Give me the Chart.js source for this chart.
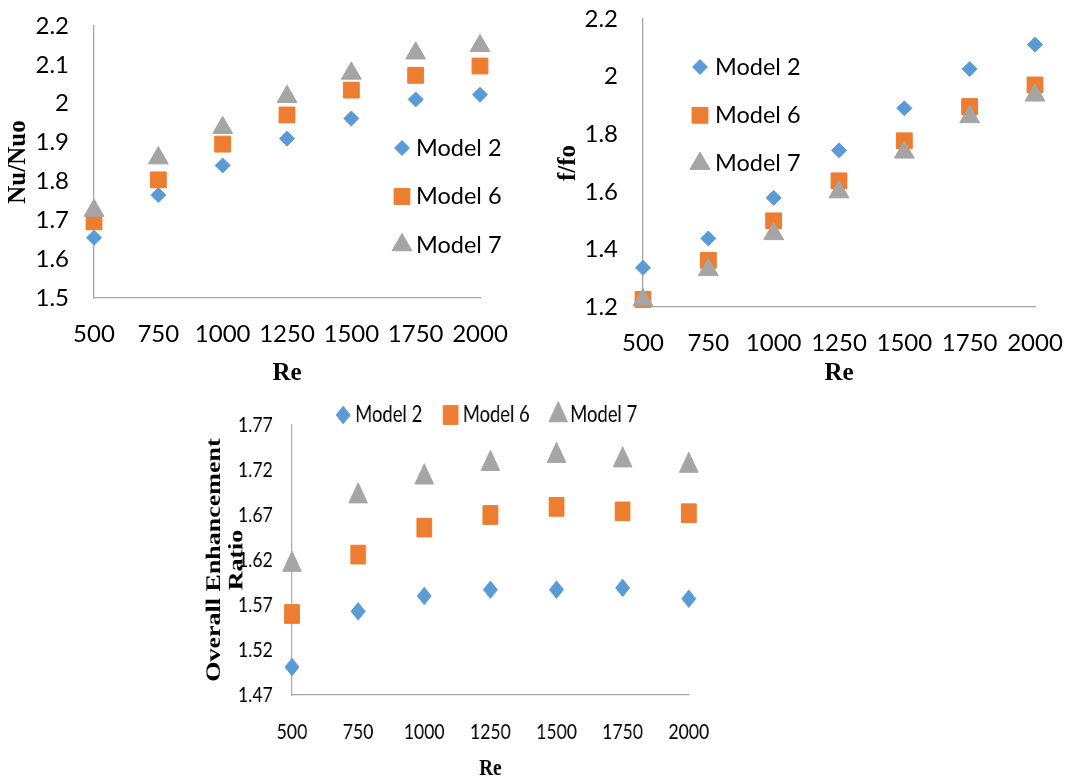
<!DOCTYPE html>
<html>
<head>
<meta charset="utf-8">
<script src="https://cdn.jsdelivr.net/npm/chart.js@4.4.1/dist/chart.umd.min.js"></script>
<style>
  body { margin: 0; background: #fff; }
  canvas { position: absolute; }
  #oerChart { transform: scaleX(0.8); transform-origin: 0 0; }
</style>
</head>
<body>
<canvas id="nuChart" width="545" height="390" style="left:0;top:0"></canvas>
<canvas id="fChart" width="543" height="390" style="left:545px;top:0"></canvas>
<!-- the third chart is squeezed sideways in the original, so it is drawn wider and scaled -->
<canvas id="oerChart" width="875" height="393" style="left:200px;top:390px"></canvas>
<script>
const re = [500, 750, 1000, 1250, 1500, 1750, 2000];
const modelNames = ["Model 2", "Model 6", "Model 7"];

// Nu/Nuo
const nuModel2 = [1.655, 1.765, 1.841, 1.910, 1.962, 2.011, 2.023];
const nuModel6 = [1.696, 1.804, 1.896, 1.971, 2.035, 2.073, 2.097];
const nuModel7 = [1.725, 1.860, 1.938, 2.018, 2.078, 2.130, 2.149];
const nuTicks = [1.5, 1.6, 1.7, 1.8, 1.9, 2, 2.1, 2.2];

// f/fo
const fModel2 = [1.336, 1.438, 1.579, 1.744, 1.890, 2.026, 2.111];
const fModel6 = [1.226, 1.362, 1.499, 1.638, 1.777, 1.896, 1.971];
const fModel7 = [1.224, 1.329, 1.454, 1.599, 1.737, 1.860, 1.935];
const fTicks = [1.2, 1.4, 1.6, 1.8, 2, 2.2];

// overall enhancement ratio
const oerModel2 = [1.501, 1.563, 1.580, 1.587, 1.587, 1.589, 1.577];
const oerModel6 = [1.560, 1.626, 1.656, 1.670, 1.679, 1.674, 1.672];
const oerModel7 = [1.615, 1.691, 1.712, 1.727, 1.736, 1.731, 1.725];
const oerTicks = [1.47, 1.52, 1.57, 1.62, 1.67, 1.72, 1.77];

const markers = [
  { pointStyle: "rectRot", radius: 7.5, color: "#5B9BD5" },
  { pointStyle: "rect", radius: 11.2, color: "#ED7D31" },
  { pointStyle: "triangle", radius: 11.5, color: "#A5A5A5" },
];
const axisColor = "#A6A6A6";

// legend drawn by hand so it can sit where the original has it
const markerLegend = {
  id: "markerLegend",
  afterDraw(chart, args, opts) {
    const ctx = chart.ctx;
    ctx.save();
    ctx.font = opts.font;
    ctx.textBaseline = "middle";
    ctx.textAlign = "left";
    chart.data.datasets.forEach((ds, i) => {
      const x = opts.x + i * opts.dx;
      const y = opts.y + i * opts.dy;
      ctx.fillStyle = ds.backgroundColor;
      ctx.strokeStyle = ds.borderColor;
      ctx.lineWidth = 1;
      Chart.helpers.drawPoint(ctx, { pointStyle: ds.pointStyle, radius: ds.pointRadius, borderWidth: 1, rotation: 0 }, x, y);
      ctx.fillStyle = "#000";
      ctx.fillText(ds.label, x + opts.gap, y);
    });
    ctx.restore();
  },
};

function makeDatasets(series, k) {
  return series.map((vals, i) => ({
    label: modelNames[i],
    data: vals.map((v, j) => ({ x: re[j], y: v })),
    pointStyle: markers[i].pointStyle,
    pointRadius: markers[i].radius * k,
    pointHoverRadius: markers[i].radius * k,
    backgroundColor: markers[i].color,
    borderColor: markers[i].color,
    borderWidth: 1,
    showLine: false,
    clip: false,
    order: 2 - i,
  }));
}

function makeChart(id, series, ticks, c) {
  return new Chart(document.getElementById(id), {
    type: "scatter",
    data: { datasets: makeDatasets(series, c.markerScale) },
    options: {
      responsive: false,
      animation: false,
      devicePixelRatio: 1,
      layout: { padding: { left: 0, top: c.top, right: c.right, bottom: 0 } },
      plugins: {
        legend: { display: false },
        tooltip: { enabled: false },
        markerLegend: c.legend,
      },
      scales: {
        x: {
          type: "linear",
          min: 500,
          max: 2000,
          afterBuildTicks: (s) => { s.ticks = re.map((v) => ({ value: v })); },
          afterFit: (s) => { s.height = c.xHeight; s.paddingLeft = 0; s.paddingRight = 0; },
          grid: { display: false, drawTicks: false },
          border: { color: axisColor, width: 1.3 },
          ticks: {
            autoSkip: false,
            maxRotation: 0,
            padding: c.xPad,
            color: "#000",
            font: { family: "Lato", size: c.tickSize },
            callback: (v) => String(v),
          },
          title: {
            display: true,
            text: "Re",
            color: "#000",
            font: { family: "Liberation Serif", weight: "bold", size: c.xTitleSize },
            padding: { top: 0, bottom: c.xTitlePad },
          },
        },
        y: {
          type: "linear",
          min: ticks[0],
          max: ticks[ticks.length - 1],
          afterBuildTicks: (s) => { s.ticks = ticks.map((v) => ({ value: v })); },
          afterFit: (s) => { s.width = c.yWidth; s.paddingTop = 0; s.paddingBottom = 0; },
          grid: { display: false, drawTicks: false },
          border: { color: axisColor, width: 1.3 },
          ticks: {
            padding: c.yPad,
            color: "#000",
            font: { family: "Lato", size: c.tickSize },
            callback: (v) => String(v),
          },
          title: {
            display: true,
            text: c.yTitle,
            color: "#000",
            font: { family: "Liberation Serif", weight: "bold", size: c.yTitleSize, lineHeight: c.yTitleLine },
            padding: { top: c.yTitlePad, bottom: 0 },
          },
        },
      },
    },
    plugins: [markerLegend],
  });
}

makeChart("nuChart", [nuModel2, nuModel6, nuModel7], nuTicks, {
  top: 26, right: 65, xHeight: 92, yWidth: 94, markerScale: 1,
  xPad: 22, yPad: 25, tickSize: 24,
  xTitleSize: 25, xTitlePad: 1,
  yTitle: "Nu/Nuo", yTitleSize: 25, yTitleLine: 1.2, yTitlePad: 4,
  legend: { x: 402, y: 148, dx: 0, dy: 48.5, gap: 14, font: "23.5px Lato" },
});

makeChart("fChart", [fModel2, fModel6, fModel7], fTicks, {
  top: 19, right: 53, xHeight: 83, yWidth: 98, markerScale: 1,
  xPad: 22, yPad: 25, tickSize: 24,
  xTitleSize: 25, xTitlePad: 1,
  yTitle: "f/fo", yTitleSize: 25, yTitleLine: 1.2, yTitlePad: 9,
  legend: { x: 155, y: 67, dx: 0, dy: 48.3, gap: 15, font: "23.5px Lato" },
});

makeChart("oerChart", [oerModel2, oerModel6, oerModel7], oerTicks, {
  top: 35, right: 264, xHeight: 88, yWidth: 115, markerScale: 1.18,
  xPad: 24, yPad: 24, tickSize: 22,
  xTitleSize: 24, xTitlePad: 0,
  yTitle: ["Overall Enhancement", "Ratio"], yTitleSize: 26, yTitleLine: "27.5px", yTitlePad: 5,
  legend: { x: 179, y: 25, dx: 134.4, dy: 0, gap: 15, font: "23px Lato" },
});
</script>
</body>
</html>
